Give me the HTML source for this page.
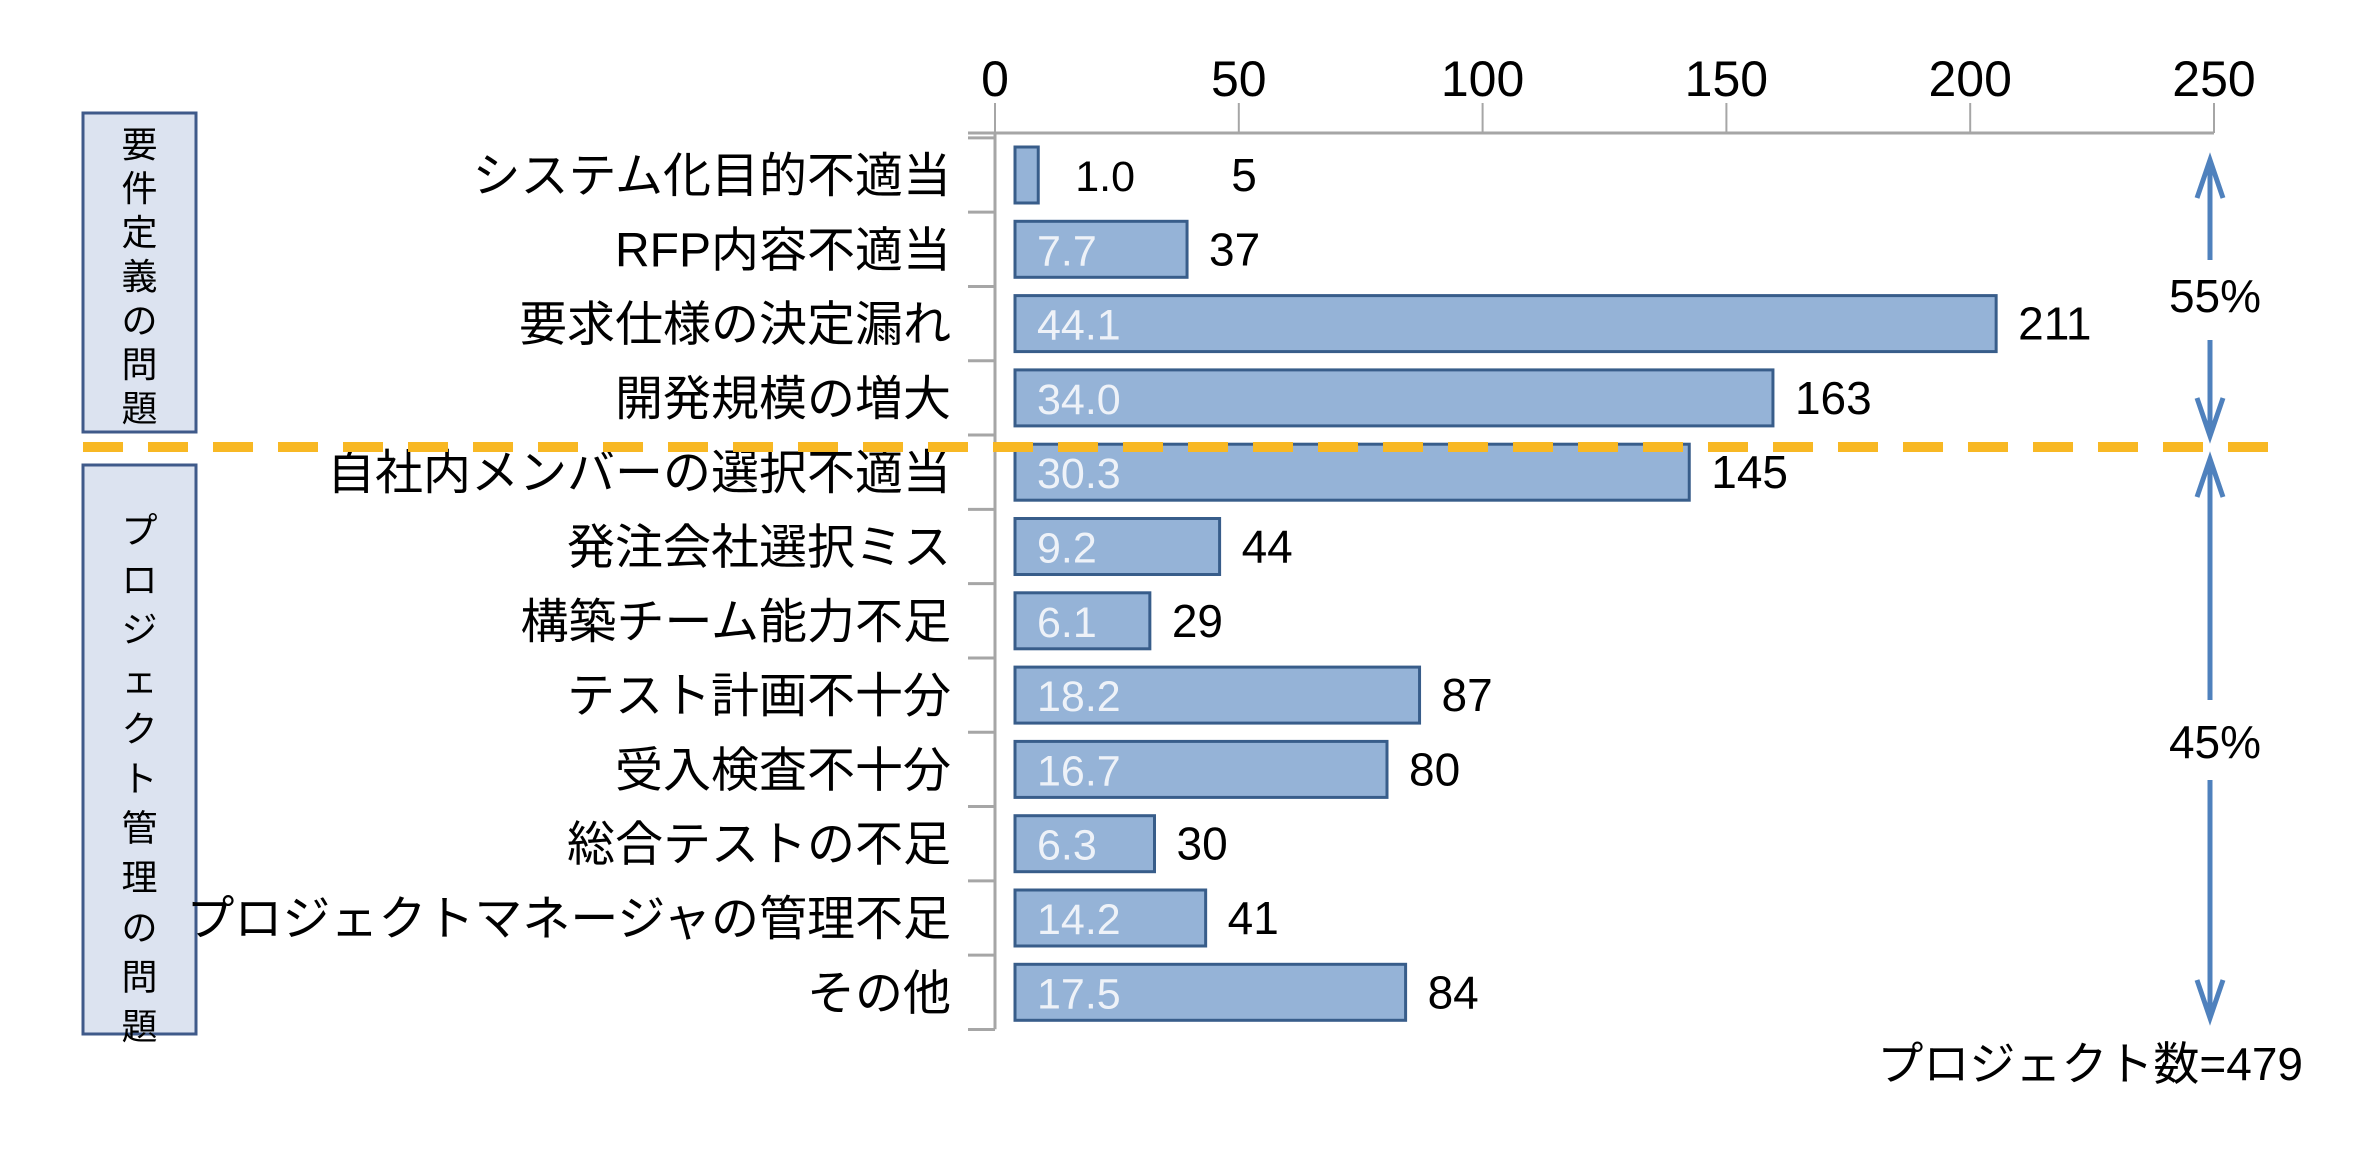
<!DOCTYPE html>
<html><head><meta charset="utf-8"><style>
html,body{margin:0;padding:0;background:#fff;}
svg text{font-family:"Liberation Sans","Noto Sans CJK JP",sans-serif;}
</style></head><body>
<svg id="chart" width="2360" height="1144" viewBox="0 0 2360 1144" xmlns="http://www.w3.org/2000/svg">
<g id="boxes">
<rect x="83" y="113" width="113" height="319" fill="#dce3f0" stroke="#3f5a8a" stroke-width="3"/>
<rect x="83" y="465" width="113" height="569" fill="#dce3f0" stroke="#3f5a8a" stroke-width="3"/>
</g>
<g id="axis"></g>
<g id="bars"></g>
<g id="annot"></g>
</svg>
<script>
const categories = ["システム化目的不適当","RFP内容不適当","要求仕様の決定漏れ","開発規模の増大","自社内メンバーの選択不適当","発注会社選択ミス","構築チーム能力不足","テスト計画不十分","受入検査不十分","総合テストの不足","プロジェクトマネージャの管理不足","その他"];
const counts = [5,37,211,163,145,44,29,87,80,30,41,84];
const percents = ["1.0","7.7","44.1","34.0","30.3","9.2","6.1","18.2","16.7","6.3","14.2","17.5"];
const tickValues = [0,50,100,150,200,250];
const group1Label = "要件定義の問題";
const group2Label = "プロジェクト管理の問題";
const group1Pct = "55%";
const group2Pct = "45%";
const totalLabel = "プロジェクト数=479";

const NS="http://www.w3.org/2000/svg";
function mk(tag,attrs,parent,txt){const e=document.createElementNS(NS,tag);for(const k in attrs)e.setAttribute(k,attrs[k]);if(txt!==undefined)e.textContent=txt;parent.appendChild(e);return e;}
const axisX0=995, axisScale=4.876;
function xTick(v){return axisX0+v*axisScale;}
const barX0=1015, barScale=4.65;
function xBar(v){return barX0+v*barScale;}
function yRow(i){return 175+i*74.3;}
const barH=56;
const axisG=document.getElementById('axis'), barsG=document.getElementById('bars'), annG=document.getElementById('annot');

let l=mk('line',{x1:968,y1:133,x2:xTick(250),y2:133,stroke:'#a6a6a6','stroke-width':3},axisG);


tickValues.forEach(v=>{
  const t=mk('line',{x1:xTick(v),y1:103,x2:xTick(v),y2:133,stroke:'#a6a6a6','stroke-width':2},axisG);
  
  
  const tx=mk('text',{x:xTick(v),y:96,'text-anchor':'middle','font-size':50,fill:'#000'},axisG,String(v));
  
  
});
l=mk('line',{x1:995,y1:133,x2:995,y2:yRow(11)+37,stroke:'#a6a6a6','stroke-width':3},axisG);


for(let i=0;i<=categories.length;i++){
  const y=yRow(i)-37.15;
  const t=mk('line',{x1:968,y1:y,x2:995,y2:y,stroke:'#a6a6a6','stroke-width':3},axisG);
  
  
}
categories.forEach((c,i)=>{
  const t=mk('text',{x:951,y:yRow(i)+17,'text-anchor':'end','font-size':48,fill:'#000'},axisG,c);
  
  
});
counts.forEach((v,i)=>{
  const y=yRow(i)-barH/2, xe=xBar(v);
  const r=mk('rect',{x:barX0,y:y,width:xe-barX0,height:barH,fill:'#95b3d7',stroke:'#385d8a','stroke-width':3},barsG);
  
  
  if(xe-barX0<80){
    const p=mk('text',{x:xe+37,y:yRow(i)+16,'font-size':43,fill:'#000'},barsG,percents[i]);
    
    
    const c=mk('text',{x:xe+193,y:yRow(i)+16,'font-size':46,fill:'#000'},barsG,String(v));
    
    
  } else {
    const p=mk('text',{x:barX0+22,y:yRow(i)+16,'font-size':43,fill:'#eef2f8'},barsG,percents[i]);
    
    
    const c=mk('text',{x:xe+22,y:yRow(i)+16,'font-size':46,fill:'#000'},barsG,String(v));
    
    
  }
});
l=mk('line',{x1:83,y1:447,x2:2290,y2:447,stroke:'#f8b824','stroke-width':10,'stroke-dasharray':'40 25'},annG);


[...group1Label].forEach((ch,k)=>{
  const t=mk('text',{x:139.5,y:157+k*44,'text-anchor':'middle','font-size':36,fill:'#000'},annG,ch);
  
  
});
[...group2Label].forEach((ch,k)=>{
  const t=mk('text',{x:139.5,y:543+k*49.6,'text-anchor':'middle','font-size':36,fill:'#000'},annG,ch);
  
  
});
const ax=2210, ac='#4f81bd';
function seg(y1,y2,name){const s=mk('line',{x1:ax,y1:y1,x2:ax,y2:y2,stroke:ac,'stroke-width':5},annG);}
function head(y,dir,name){const p=mk('polyline',{points:`${ax-13},${y-dir*38} ${ax},${y} ${ax+13},${y-dir*38}`,fill:'none',stroke:ac,'stroke-width':5,'stroke-linejoin':'miter'},annG);}
seg(160,260,'arrow-55-up'); head(160,-1,'arrowhead-55-up');
seg(340,436,'arrow-55-down'); head(436,1,'arrowhead-55-down');
seg(459,700,'arrow-45-up'); head(459,-1,'arrowhead-45-up');
seg(780,1018,'arrow-45-down'); head(1018,1,'arrowhead-45-down');
let t=mk('text',{x:ax+5,y:312,'text-anchor':'middle','font-size':46,fill:'#000'},annG,group1Pct);


t=mk('text',{x:ax+5,y:758,'text-anchor':'middle','font-size':46,fill:'#000'},annG,group2Pct);


t=mk('text',{x:2303,y:1080,'text-anchor':'end','font-size':46,fill:'#000'},annG,totalLabel);


</script>
</body></html>
